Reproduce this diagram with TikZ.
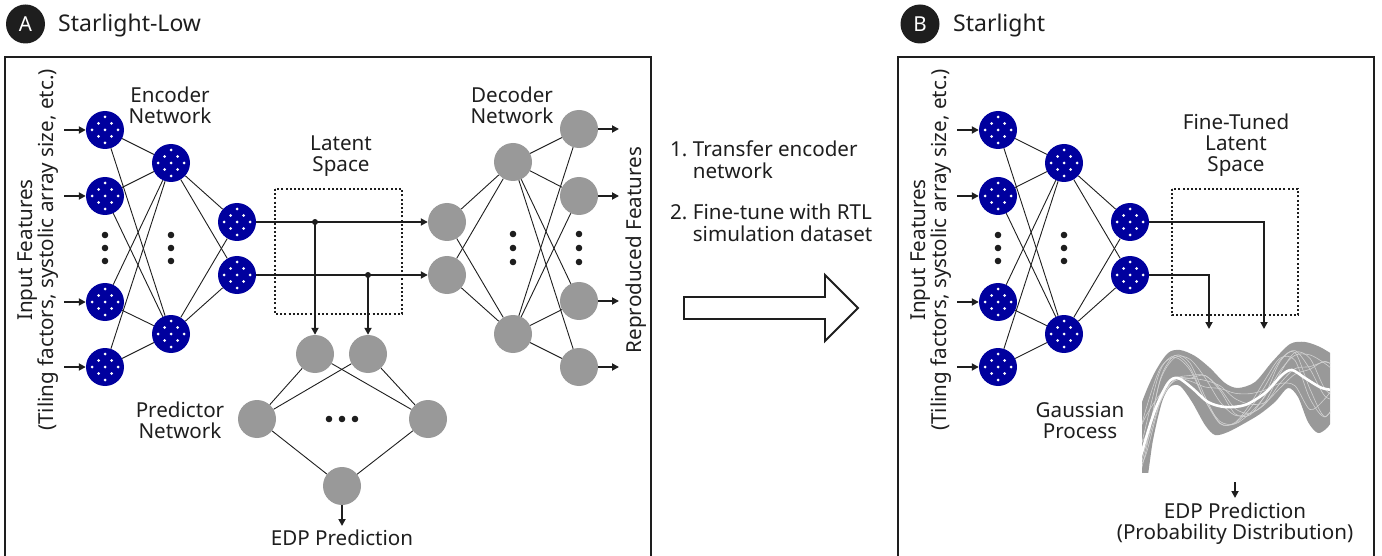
\documentclass[tikz,border=0pt]{standalone}
\usepackage{fontspec}
\setmainfont{Noto Sans}
\usetikzlibrary{arrows.meta}
\definecolor{encblue}{RGB}{0,0,158}
\definecolor{nodegrey}{RGB}{153,153,153}
\definecolor{ink}{RGB}{30,30,30}
\definecolor{sampleline}{RGB}{210,210,210}

\tikzset{
  enc/.style={circle, minimum size=38pt, inner sep=0pt, fill=encblue,
    path picture={
      \foreach \dx/\dy in {0/-13,-6.5/-6.5,6.5/-6.5,-13/0,0/0,13/0,-6.5/6.5,6.5/6.5,0/13}
        \fill[white] ([shift={(\dx pt,\dy pt)}]path picture bounding box.center) circle (1.5pt);
    }},
  dec/.style={circle, minimum size=38pt, inner sep=0pt, fill=nodegrey},
  link/.style={line width=0.9pt, draw=ink},
  flow/.style={line width=1.9pt, draw=ink, -{Triangle[length=7pt,width=7pt]}},
  latentbox/.style={line width=2pt, draw=ink, dash pattern=on 2pt off 2.2pt},
  panel/.style={line width=2.4pt, draw=ink},
  badge/.style={circle, fill=ink, text=white, minimum size=39pt, inner sep=0pt},
  title/.style={font=\fontsize{23}{25}\selectfont, anchor=base west, inner sep=0pt},
  label/.style={align=center, inner sep=0pt},
  sample/.style={line width=0.6pt, draw=sampleline},
}

% encoder network: four inputs, two hidden, two latent units
\newcommand\encnet[1]{%
  \foreach \n/\y in {1/130,2/196,3/302,4/367} {
    \node[enc] (#1a\n) at (105,\y) {};
    \coordinate (#1in\n) at (64,\y);
  }
  \node[enc] (#1b1) at (171,163) {};
  \node[enc] (#1b2) at (171,334) {};
  \node[enc] (#1c1) at (237,222) {};
  \node[enc] (#1c2) at (237,275) {};
  \foreach \i in {1,...,4} \foreach \j in {1,2} \draw[link] (#1a\i) -- (#1b\j);
  \foreach \i in {1,2} \foreach \j in {1,2} \draw[link] (#1b\i) -- (#1c\j);
  \foreach \i in {1,...,4} \draw[flow] (#1in\i) -- (#1a\i);
  \foreach \x in {105,171} \foreach \y in {235,248,261} \fill[ink] (\x,\y) circle (3.3pt);
  \node[label, rotate=90] (#1inlabel) at (38,250) {Input Features\\(Tiling factors, systolic array size, etc.)};
}

\begin{document}
\begin{tikzpicture}[x=1pt, y=-1pt, font=\fontsize{20.6}{21}\selectfont, text=ink]
\useasboundingbox (0,0) rectangle (1382,556);

% ---------------- panel A ----------------
\node[badge] (badgeA) at (25.5,24) {A};
\node[title] (titleA) at (58,32) {Starlight-Low};
\draw[panel] (5,57) rectangle (651,580);

\encnet{L}
\node[label] (enclabel) at (170,105) {Encoder\\Network};

% latent space
\draw[latentbox] (275,189) rectangle (402,314);
\node[label] (latlabel) at (341,156) {Latent\\Space};

% decoder
\node[dec] (d1) at (447,222) {};
\node[dec] (d2) at (447,275) {};
\node[dec] (e1) at (513,162) {};
\node[dec] (e2) at (513,334) {};
\foreach \n/\y in {1/129,2/196,3/301,4/367} {
  \node[dec] (f\n) at (579,\y) {};
  \coordinate (out\n) at (619,\y);
}
\foreach \i in {1,2} \foreach \j in {1,2} \draw[link] (d\i) -- (e\j);
\foreach \i in {1,2} \foreach \j in {1,...,4} \draw[link] (e\i) -- (f\j);
\foreach \i in {1,...,4} \draw[flow] (f\i) -- (out\i);
\foreach \x in {513,579} \foreach \y in {234,248,262} \fill[ink] (\x,\y) circle (3.3pt);
\node[label] (declabel) at (512,105) {Decoder\\Network};
\node[label, rotate=90] (replabel) at (636,250) {Reproduced Features};

% predictor
\node[dec] (p1) at (315,354) {};
\node[dec] (p2) at (368,354) {};
\node[dec] (q1) at (257,419) {};
\node[dec] (q2) at (428,419) {};
\node[dec] (r) at (342,486) {};
\foreach \i in {1,2} \foreach \j in {1,2} \draw[link] (p\i) -- (q\j);
\draw[link] (q1) -- (r);
\draw[link] (q2) -- (r);
\foreach \x in {329,342,355} \fill[ink] (\x,419) circle (3.3pt);
\node[label] (predlabel) at (180,420) {Predictor\\Network};

% latent links to decoder and predictor
\coordinate (j1) at (315,222);
\coordinate (j2) at (368,275);
\draw[flow] (Lc1) -- (d1);
\draw[flow] (Lc2) -- (d2);
\fill[ink] (j1) circle (3pt);
\fill[ink] (j2) circle (3pt);
\draw[flow] (j1) -- (p1);
\draw[flow] (j2) -- (p2);
\coordinate (edpA) at (342,526);
\draw[flow] (r) -- (edpA);
\node[anchor=base, inner sep=0pt] (edplabelA) at (342,545) {EDP Prediction};

% ---------------- transfer step ----------------
\node[anchor=west, inner sep=0pt] (step1) at (670,162.3)
  {\begin{tabular}{@{}l@{\ }l@{}}1. & Transfer encoder\\ & network\end{tabular}};
\node[anchor=west, inner sep=0pt] (step2) at (670,226.3)
  {\begin{tabular}{@{}l@{\ }l@{}}2. & Fine-tune with RTL\\ & simulation dataset\end{tabular}};
\draw[line width=1.9pt, draw=ink, fill=white]
  (684,297) -- (825,297) -- (825,275) -- (858,308) -- (825,341) -- (825,319) -- (684,319) -- cycle;

% ---------------- panel B ----------------
\node[badge] (badgeB) at (920,24) {B};
\node[title] (titleB) at (953,32) {Starlight};
\draw[panel] (898,57) rectangle (1374,580);

\begin{scope}[shift={(893,0)}]
  \encnet{R}
\end{scope}

\draw[latentbox] (1172,189) rectangle (1298,315);
\node[label] (ftlabel) at (1236,145) {Fine-Tuned\\Latent\\Space};

\coordinate (k1) at (1264,222);
\coordinate (k1end) at (1264,329);
\coordinate (k2) at (1209,275);
\coordinate (k2end) at (1209,329);
\draw[flow] (Rc1) -- (k1) -- (k1end);
\draw[flow] (Rc2) -- (k2) -- (k2end);

% Gaussian process: confidence band, samples and mean
\def\gx{{1130,1145,1160,1175,1190,1205,1220,1235,1250,1265,1280,1295,1310,1325,1340}}
\def\gu{{440,395,362,350,353,364,378,387,384,370,352,343,343,350,359}}
\def\gl{{520,480,410,386,398,425,434,430,420,410,395,393,425,428,410}}
\begin{scope}
  \clip (1142,336) rectangle (1330,472);
  \fill[nodegrey] plot[smooth] coordinates {(1125,455) (1142,402) (1155,372) (1168,353) (1180,350)
      (1195,356) (1210,368) (1225,383) (1238,388) (1255,382) (1272,362) (1290,344) (1305,342)
      (1320,347) (1335,356) (1345,362)}
    -- plot[smooth] coordinates {(1345,405) (1335,415) (1328,427) (1318,433) (1308,422) (1298,397)
      (1288,388) (1275,402) (1260,414) (1245,423) (1228,432) (1215,435) (1205,425) (1192,402)
      (1180,386) (1170,387) (1162,402) (1153,440) (1145,490) (1130,520)} -- cycle;
  \foreach \a/\p in {40/0,55/90,35/200,60/300,45/150,70/250,50/330,38/120} {
    \draw[sample] plot[smooth, samples at={0,...,14}, variable=\k]
      ({\gx[\k]}, {\gu[\k]+(\gl[\k]-\gu[\k])*(0.5+0.36*sin(\a*\k+\p))});
  }
  \draw[white, line width=2.6pt] plot[smooth] coordinates {(1130,500) (1142,452) (1155,410) (1168,383)
      (1178,378) (1192,388) (1208,402) (1225,407) (1245,405) (1265,393) (1282,375) (1292,370)
      (1305,378) (1322,388) (1340,391)};
\end{scope}
\node[label] (gplabel) at (1080,421) {Gaussian\\Process};

\coordinate (gptop) at (1235,482);
\coordinate (gpbot) at (1235,498);
\draw[flow] (gptop) -- (gpbot);
\node[label] (edplabelB) at (1235,524) {EDP Prediction\\(Probability Distribution)};

\end{tikzpicture}
\end{document}
